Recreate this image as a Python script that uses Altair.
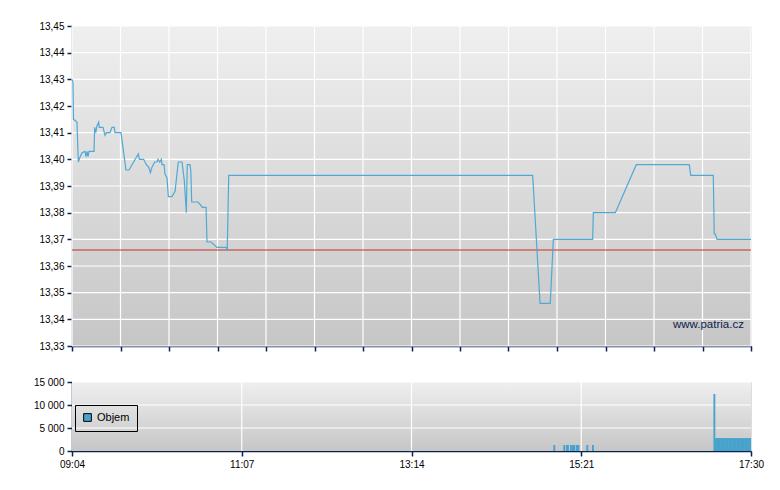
import altair as alt
import pandas as pd

# ---------------- data ----------------
# price series: minutes since 09:04, price
price_t = [0, 0.7, 1.1, 3.7, 4.7, 5.7, 7.5, 9.7, 10.4, 11.2, 11.9, 12.7, 16.4, 16.9, 17.7,
           18.6, 19.9, 20.3, 23.1, 24.6, 25.6, 28.3, 29.8, 31.5, 32.0, 36.5, 38.0, 40.2, 42.5,
           49.4, 50.2, 53.4, 55.4, 57.2, 58.4, 59.6, 61.6, 63.3, 64.1, 65.4, 66.6, 67.1, 68.6,
           69.3, 70.8, 71.8, 74.5, 76.8, 79.2, 82.0, 83.7, 85.2, 85.9, 87.9, 88.5, 89.2, 93.9,
           95.6, 97.1, 99.9, 100.6, 103.6, 108.1, 114.8, 115.7, 116.8, 343.3, 348.8, 356.4,
           358.7, 388.0, 388.5, 404.9, 420.5, 460.0, 461.1, 477.9, 478.6, 479.4, 480.7, 506]
price_v = [13.430, 13.429, 13.415, 13.414, 13.399, 13.4005, 13.4025, 13.403, 13.401, 13.403,
           13.401, 13.403, 13.403, 13.412, 13.410, 13.4125, 13.414, 13.412, 13.412, 13.409,
           13.410, 13.410, 13.412, 13.412, 13.410, 13.410, 13.4045, 13.396, 13.396, 13.402,
           13.400, 13.400, 13.398, 13.397, 13.395, 13.397, 13.399, 13.399, 13.400, 13.399,
           13.400, 13.398, 13.398, 13.3945, 13.393, 13.386, 13.386, 13.388, 13.399, 13.399,
           13.392, 13.380, 13.398, 13.398, 13.396, 13.384, 13.384, 13.383, 13.382, 13.382,
           13.369, 13.369, 13.367, 13.367, 13.366, 13.394, 13.394, 13.346, 13.346, 13.370,
           13.370, 13.380, 13.380, 13.398, 13.398, 13.394, 13.394, 13.372, 13.372, 13.370,
           13.370]
ref_price = 13.366

# volume bars: minutes since 09:04, volume
vol_t = [358.7, 366.1, 368.1, 368.9, 371.1, 372.6, 373.7, 375.6, 376.7, 383.3, 387.5,
         478.0, 479.0, 480.0, 481.0, 482.0, 483.0, 484.0, 485.0, 486.0, 487.0, 488.0, 489.0,
         490.0, 491.0, 492.0, 493.0, 494.0, 495.0, 496.0, 497.0, 498.0, 499.0, 500.0, 501.0,
         502.0, 503.0, 504.0, 505.0]
vol_v = [1300, 1300, 1300, 1300, 1300, 1300, 1300, 1300, 1300, 1300, 1300,
         12400, 2800, 2800, 2800, 2800, 2800, 2800, 2800, 2800, 2800, 2800, 2800,
         2800, 2800, 2800, 2800, 2800, 2800, 2800, 2800, 2800, 2800, 2800, 2800,
         2800, 2800, 2800, 2800]
vol_name = "Objem"

price_ticks = [13.33, 13.34, 13.35, 13.36, 13.37, 13.38, 13.39, 13.40, 13.41, 13.42, 13.43, 13.44, 13.45]
vol_ticks = [0, 5000, 10000, 15000]
time_labels = ["09:04", "11:07", "13:14", "15:21", "17:30"]
session_minutes = 506
watermark = "www.patria.cz"

# ---------------- styling ----------------
NAVY = "#0b2150"
LINE = "#4fa9d4"
BAR = "#47a3cc"
REF = "#c0302c"
FONT = "Liberation Sans"
W = 679
H1 = 320
H2 = 69
SPACING = 23

bg_grad = alt.Gradient(gradient="linear",
                       stops=[alt.GradientStop(color="#efefef", offset=0),
                              alt.GradientStop(color="#c6c6c6", offset=1)],
                       x1=0, x2=0, y1=0, y2=1)

top_xticks = [session_minutes * k / 14 for k in range(15)]
bot_xticks = [session_minutes * k / 4 for k in range(5)]

xscale = alt.Scale(domain=[0, session_minutes], nice=False, zero=False)
yscale = alt.Scale(domain=[13.33, 13.45], nice=False, zero=False)
vscale = alt.Scale(domain=[0, 15000], nice=False)

x_axis_top = alt.Axis(title=None, values=top_xticks, labels=False, grid=False,
                      tickSize=5, domainColor=NAVY, tickColor=NAVY, domainWidth=1.5, tickWidth=1.5)
y_axis_top = alt.Axis(title=None, values=price_ticks, grid=False, tickSize=5,
                      labelExpr="replace(format(datum.value, '.2f'), '.', ',')",
                      domainColor=NAVY, tickColor=NAVY, domainWidth=1.5, tickWidth=1.5,
                      labelPadding=3)

label_js = "[" + ",".join("'%s'" % s for s in time_labels) + "]"
x_axis_bot = alt.Axis(title=None, values=bot_xticks, grid=False, tickSize=5, labelFlush=False,
                      labelExpr=label_js + "[round(datum.value / %s)]" % (session_minutes / 4),
                      domainColor=NAVY, tickColor=NAVY, domainWidth=1.5, tickWidth=1.5,
                      labelPadding=3)
y_axis_bot = alt.Axis(title=None, values=vol_ticks, grid=False, tickSize=5,
                      labelExpr="replace(format(datum.value, ','), ',', ' ')",
                      domainColor=NAVY, tickColor=NAVY, domainWidth=1.5, tickWidth=1.5,
                      labelPadding=3)

price_df = pd.DataFrame({"t": price_t, "p": price_v})
vol_df = pd.DataFrame({"t": vol_t, "v": vol_v})
vol_df["t2"] = (vol_df["t"] + 1.4).clip(upper=session_minutes)
vol_df["zero"] = 0
vol_df["s"] = vol_name

one = pd.DataFrame({"a": [0]})

# ---------------- top chart ----------------
bg1 = alt.Chart(one).mark_rect(color=bg_grad).encode(
    x=alt.value(0), x2=alt.value(W), y=alt.value(0), y2=alt.value(H1))

hgrid1 = alt.Chart(pd.DataFrame({"gy": price_ticks})).mark_rule(color="white", strokeWidth=1.2).encode(
    y=alt.Y("gy:Q", scale=yscale, axis=y_axis_top))
vgrid1 = alt.Chart(pd.DataFrame({"gx": top_xticks})).mark_rule(color="white", strokeWidth=1.2).encode(
    x=alt.X("gx:Q", scale=xscale, axis=x_axis_top))
ref = alt.Chart(pd.DataFrame({"r": [ref_price]})).mark_rule(color=REF, strokeWidth=1).encode(
    y=alt.Y("r:Q", scale=yscale, axis=y_axis_top))
line = alt.Chart(price_df).mark_line(color=LINE, strokeWidth=1.2).encode(
    x=alt.X("t:Q", scale=xscale, axis=x_axis_top),
    y=alt.Y("p:Q", scale=yscale, axis=y_axis_top))
wm = alt.Chart(pd.DataFrame({"w": [watermark]})).mark_text(
    align="left", baseline="middle", font=FONT, fontSize=11.5, color=NAVY).encode(
    x=alt.value(601), y=alt.value(299), text="w:N")

top = alt.layer(bg1, hgrid1, vgrid1, ref, line, wm).properties(width=W, height=H1)

# ---------------- bottom chart ----------------
bg2 = alt.Chart(one).mark_rect(color=bg_grad).encode(
    x=alt.value(0), x2=alt.value(W), y=alt.value(0), y2=alt.value(H2))
hgrid2 = alt.Chart(pd.DataFrame({"gy": vol_ticks[1:]})).mark_rule(color="white", strokeWidth=1.2).encode(
    y=alt.Y("gy:Q", scale=vscale, axis=y_axis_bot))
vgrid2 = alt.Chart(pd.DataFrame({"gx": bot_xticks[1:-1]})).mark_rule(color="white", strokeWidth=1.2).encode(
    x=alt.X("gx:Q", scale=xscale, axis=x_axis_bot))
# legend is positioned relative to the top-level group (top chart origin)
legend_y = H1 + 5 + SPACING + 6 + 25
bars = alt.Chart(vol_df).mark_rect().encode(
    x=alt.X("t:Q", scale=xscale, axis=x_axis_bot),
    x2="t2:Q",
    y=alt.Y("v:Q", scale=vscale, axis=y_axis_bot),
    y2="zero:Q",
    color=alt.Color("s:N", scale=alt.Scale(range=[BAR]),
                    legend=alt.Legend(title=None, orient="none", legendX=3, legendY=legend_y,
                                      strokeColor="black", padding=7, symbolType="square",
                                      symbolSize=60, symbolStrokeColor="black",
                                      symbolStrokeWidth=1, labelFontSize=11,
                                      labelFont=FONT, labelColor="black")))

bottom = alt.layer(bg2, hgrid2, vgrid2, bars).properties(width=W, height=H2)

chart = alt.vconcat(top, bottom, spacing=SPACING).properties(
    padding={"left": 24, "top": 12, "right": 5, "bottom": 5}
).configure_view(strokeWidth=0).configure_axis(
    labelFont=FONT, labelFontSize=11, labelColor=NAVY
).configure(background="white")

chart.save("out.html", embed_options={"renderer": "svg", "actions": False})
